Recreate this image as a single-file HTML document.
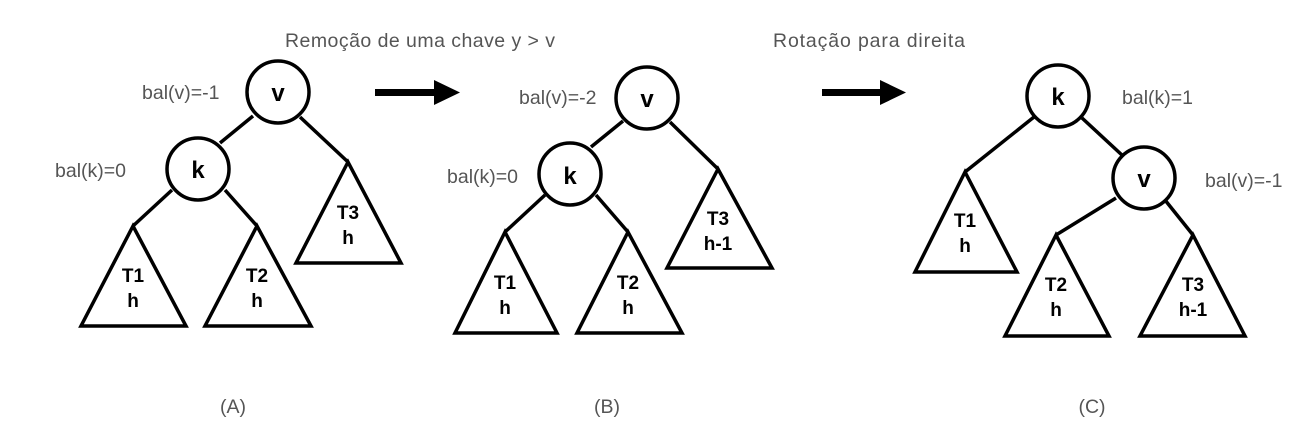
<!DOCTYPE html>
<html><head><style>
html,body{margin:0;padding:0;background:#fff;}
svg{display:block;}
.g{font-family:"Liberation Sans",sans-serif;font-size:19.5px;fill:#555;}
.n{font-family:"Liberation Sans",sans-serif;font-size:24px;font-weight:bold;fill:#000;text-anchor:middle;}
.t{font-family:"Liberation Sans",sans-serif;font-size:19px;font-weight:bold;fill:#000;text-anchor:middle;}
</style></head><body>
<svg width="1301" height="429" viewBox="0 0 1301 429" xmlns="http://www.w3.org/2000/svg">
<g stroke="#000" stroke-width="3.5" fill="#fff">
<!-- A -->
<line x1="253" y1="116" x2="220" y2="143"/>
<line x1="300" y1="117" x2="348" y2="162"/>
<line x1="172" y1="190" x2="133" y2="226"/>
<line x1="225" y1="190" x2="257" y2="226"/>
<circle cx="278" cy="92" r="31"/>
<circle cx="198" cy="169" r="31"/>
<polygon points="348,162 296,263 401,263"/>
<polygon points="133,226 81,326 186,326"/>
<polygon points="257,226 205,326 311,326"/>
<!-- B -->
<line x1="623" y1="121" x2="591" y2="147"/>
<line x1="670" y1="122" x2="718" y2="169"/>
<line x1="545" y1="195" x2="505" y2="232"/>
<line x1="596" y1="195" x2="628" y2="232"/>
<circle cx="647" cy="98" r="31"/>
<circle cx="570" cy="174" r="31"/>
<polygon points="718,169 667,268 772,268"/>
<polygon points="505,232 455,333 557,333"/>
<polygon points="628,232 577,333 682,333"/>
<!-- C -->
<line x1="1034" y1="117" x2="965" y2="172"/>
<line x1="1082" y1="118" x2="1123" y2="156"/>
<line x1="1116" y1="198" x2="1056" y2="235"/>
<line x1="1165" y1="200" x2="1193" y2="235"/>
<circle cx="1058" cy="96" r="31"/>
<circle cx="1144" cy="178" r="31"/>
<polygon points="965,172 915,272 1017,272"/>
<polygon points="1056,235 1005,336 1109,336"/>
<polygon points="1193,235 1140,336 1245,336"/>
</g>
<!-- arrows -->
<rect x="375" y="89" width="62" height="7" fill="#000"/>
<polygon points="434,80 460,92.5 434,105" fill="#000"/>
<rect x="822" y="89" width="60" height="7" fill="#000"/>
<polygon points="880,80 906,92.5 880,105" fill="#000"/>
<!-- node labels -->
<text class="n" x="278" y="101">v</text>
<text class="n" x="198" y="178">k</text>
<text class="n" x="647" y="107">v</text>
<text class="n" x="570" y="184">k</text>
<text class="n" x="1058" y="105">k</text>
<text class="n" x="1144" y="187">v</text>
<!-- subtree labels -->
<text class="t" x="133" y="282">T1</text><text class="t" x="133" y="307">h</text>
<text class="t" x="257" y="282">T2</text><text class="t" x="257" y="307">h</text>
<text class="t" x="348" y="219">T3</text><text class="t" x="348" y="244">h</text>
<text class="t" x="505" y="289">T1</text><text class="t" x="505" y="314">h</text>
<text class="t" x="628" y="289">T2</text><text class="t" x="628" y="314">h</text>
<text class="t" x="718" y="225">T3</text><text class="t" x="718" y="250">h-1</text>
<text class="t" x="965" y="227">T1</text><text class="t" x="965" y="252">h</text>
<text class="t" x="1056" y="291">T2</text><text class="t" x="1056" y="316">h</text>
<text class="t" x="1193" y="291">T3</text><text class="t" x="1193" y="316">h-1</text>
<!-- gray labels -->
<text class="g" x="142" y="99">bal(v)=-1</text>
<text class="g" x="55" y="177">bal(k)=0</text>
<text class="g" x="519" y="104">bal(v)=-2</text>
<text class="g" x="447" y="183">bal(k)=0</text>
<text class="g" x="1122" y="104">bal(k)=1</text>
<text class="g" x="1205" y="187">bal(v)=-1</text>
<text class="g" x="285" y="47" textLength="270">Remoção de uma chave y &gt; v</text>
<text class="g" x="773" y="47" textLength="192">Rotação para direita</text>
<text class="g" x="233" y="413" text-anchor="middle">(A)</text>
<text class="g" x="607" y="413" text-anchor="middle">(B)</text>
<text class="g" x="1092" y="413" text-anchor="middle">(C)</text>
</svg>
</body></html>
